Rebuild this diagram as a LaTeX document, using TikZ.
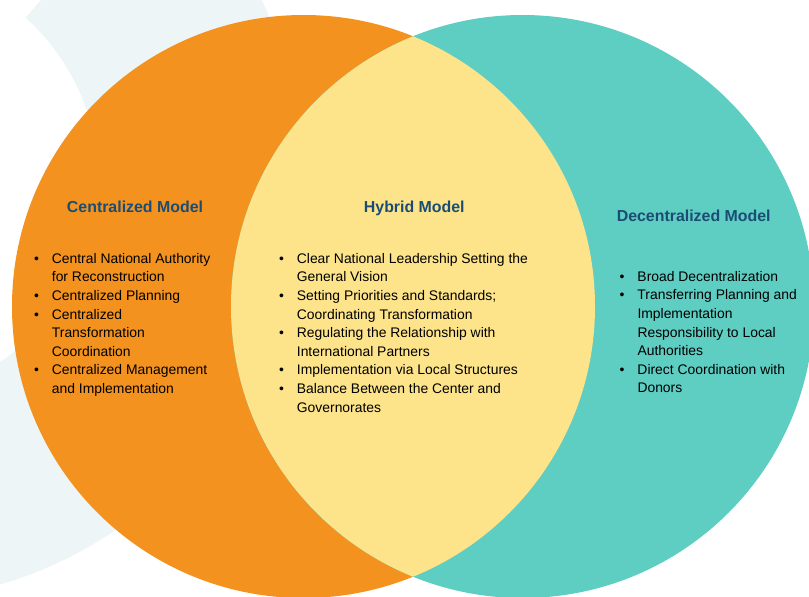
\documentclass[tikz,border=0pt]{standalone}
\usepackage{fontspec}
\setmainfont{Liberation Sans}
\usepackage{xcolor}
\usepackage{tikz}

\definecolor{centralorange}{HTML}{F3921F}
\definecolor{hybridyellow}{HTML}{FDE48A}
\definecolor{localteal}{HTML}{5ECDC2}
\definecolor{titleblue}{HTML}{1B4D74}
\definecolor{ringgrey}{HTML}{EDF5F6}

\tikzset{
  modeltitle/.style={anchor=base, inner sep=0pt, text=titleblue,
    font=\fontsize{15.9}{19}\selectfont\bfseries},
  modellist/.style={anchor=north west, inner sep=0pt, text=black,
    font=\fontsize{13.9}{18.6}\selectfont}
}
\newcommand{\bul}{\makebox[17.8pt][l]{\textbullet}}

\begin{document}
\begin{tikzpicture}[x=1pt,y=-1pt]
\useasboundingbox (0,0) rectangle (809,597);
\begin{scope}
\clip (0,0) rectangle (809,597);
%Ring in the back
\begin{scope}
\clip (-200,275.4) -- (80,-44.6) -- (900,-44.6) -- (900,700) -- (-200,700) -- cycle;
\fill [ringgrey, even odd rule] (-120,180) circle [radius=422] (-120,180) circle [radius=218];
\end{scope}
%Circles
\fill [centralorange] (303.5,306.5) circle [radius=291.5];
\fill [localteal] (522.5,306.5) circle [radius=291.5];
\begin{scope}
\clip (303.5,306.5) circle [radius=291.5];
\fill [hybridyellow] (522.5,306.5) circle [radius=291.5];
\end{scope}
\end{scope}
%Titles
\node [modeltitle] (central) at (135,212.7) {Centralized Model};
\node [modeltitle] (hybrid) at (414.3,212.7) {Hybrid Model};
\node [modeltitle] (local) at (693.7,221.4) {Decentralized Model};
%Lists
\node [modellist] (centrallist) at (33.9,250) {%
\begin{tabular}{@{}l@{}l@{}}
\bul & Central National Authority\\
 & for Reconstruction\\
\bul & Centralized Planning\\
\bul & Centralized\\
 & Transformation\\
 & Coordination\\
\bul & Centralized Management\\
 & and Implementation
\end{tabular}};
\node [modellist] (hybridlist) at (278.9,250) {%
\begin{tabular}{@{}l@{}l@{}}
\bul & Clear National Leadership Setting the\\
 & General Vision\\
\bul & Setting Priorities and Standards;\\
 & Coordinating Transformation\\
\bul & Regulating the Relationship with\\
 & International Partners\\
\bul & Implementation via Local Structures\\
\bul & Balance Between the Center and\\
 & Governorates
\end{tabular}};
\node [modellist] (locallist) at (619.5,268) {%
\begin{tabular}{@{}l@{}l@{}}
\bul & Broad Decentralization\\
\bul & Transferring Planning and\\
 & Implementation\\
 & Responsibility to Local\\
 & Authorities\\
\bul & Direct Coordination with\\
 & Donors
\end{tabular}};
\end{tikzpicture}
\end{document}
